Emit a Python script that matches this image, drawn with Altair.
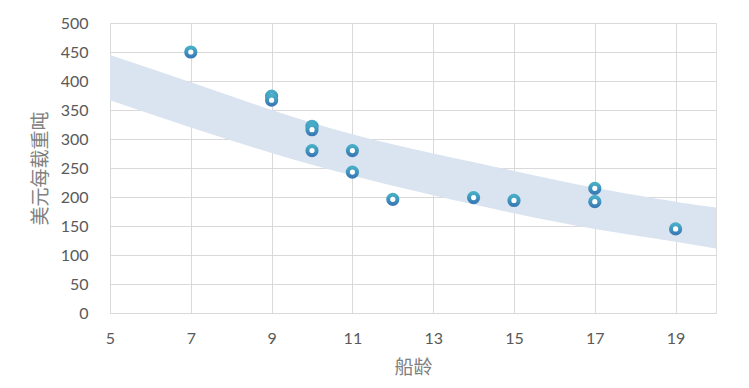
import altair as alt
import pandas as pd

ages = [7, 9, 9, 10, 10, 10, 11, 11, 12, 14, 15, 17, 17, 19]
prices = [450, 374, 367, 322, 316, 280, 280, 243, 196, 199, 194, 215, 192, 145]

band_age = [5, 7, 9, 11, 13, 15, 17, 19, 20]
band_low = [367, 320, 276, 237, 203, 172, 145, 123, 111]
band_high = [445, 398, 350, 308, 275, 245, 216, 192, 182]

x_ticks = [5, 7, 9, 11, 13, 15, 17, 19]
y_ticks = [0, 50, 100, 150, 200, 250, 300, 350, 400, 450, 500]

pts = pd.DataFrame({"age": ages, "price": prices})
band = pd.DataFrame({"age": band_age, "low": band_low, "high": band_high})

font = "Lato"
title_font = "Noto Sans CJK SC"
xscale = alt.Scale(domain=[5, 20], nice=False, zero=False)
yscale = alt.Scale(domain=[0, 500], nice=False)

xaxis = alt.Axis(values=x_ticks, title="船龄", grid=True, gridColor="#d9d9d9",
                 domain=False, ticks=False, labelPadding=17, labelFontSize=16,
                 labelColor="#595959", labelFont=font, labelOverlap=False,
                 labelFlush=False,
                 titleFont=title_font, titleFontSize=19, titleFontWeight="normal",
                 titleColor="#808080", titlePadding=12)
yaxis = alt.Axis(values=y_ticks, tickCount=11, title="美元每载重吨", grid=True,
                 gridColor="#d9d9d9", domain=False, ticks=False, labelPadding=22,
                 labelFontSize=16, labelColor="#595959", labelFont=font,
                 labelOverlap=False, labelFlush=False, titleFont=title_font,
                 titleFontSize=19, titleFontWeight="normal", titleColor="#808080",
                 titlePadding=10)

area = alt.Chart(band).mark_area(color="#dae3f0", opacity=1, interpolate="natural").encode(
    x=alt.X("age:Q", scale=xscale, axis=xaxis),
    y=alt.Y("low:Q", scale=yscale, axis=yaxis),
    y2="high:Q",
)

ring = alt.Gradient(
    gradient="linear", x1=0, y1=0, x2=0, y2=1,
    stops=[alt.GradientStop(offset=0, color="#47adc6"),
           alt.GradientStop(offset=1, color="#3a7cb6")],
)

points = alt.Chart(pts).mark_point(shape="circle", filled=True, fill="white",
                                    stroke=ring, strokeWidth=4, size=85,
                                    opacity=1).encode(
    x=alt.X("age:Q", scale=xscale, axis=xaxis),
    y=alt.Y("price:Q", scale=yscale, axis=yaxis),
)

chart = alt.layer(area, points).properties(
    width=606, height=290,
    autosize=alt.AutoSizeParams(type="none"),
    padding={"left": 102, "top": 15, "right": 25, "bottom": 75},
).configure_view(stroke="#d9d9d9", strokeWidth=1.5).configure(background="white")

chart.save("out.html", embed_options={"renderer": "svg", "actions": False})
